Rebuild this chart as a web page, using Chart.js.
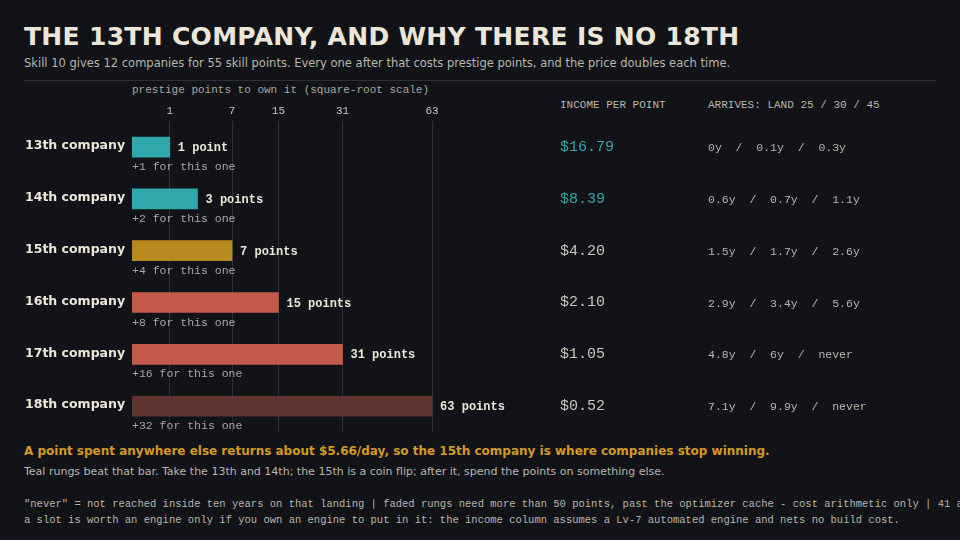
<!DOCTYPE html>
<html><head><meta charset="utf-8">
<script src="https://cdn.jsdelivr.net/npm/chart.js@4"></script>
<style>
body{margin:0;background:#111318;width:960px;height:540px;overflow:hidden;position:relative;font-family:"DejaVu Sans",sans-serif;color:#e8e4da}
.abs{position:absolute;white-space:nowrap}
#title{left:24px;top:22px;font-size:25px;font-weight:900;letter-spacing:0.3px;color:#ece6d8}
#sub{left:24px;top:56px;font-size:11.5px;color:#b9b6ae}
#rule{left:24px;top:80px;width:912px;height:1px;background:#2c2f35}
.mono{font-family:"Liberation Mono","DejaVu Sans Mono",monospace}
#axt{left:132px;top:84px;font-size:11px;color:#a9a6a0}
#h1{left:560px;top:99px;font-size:11px;color:#b9b6ae}
#h2{left:708px;top:99px;font-size:11px;color:#b9b6ae}
#take{left:24px;top:444px;font-size:12px;font-weight:bold;color:#d39a23}
#take2{left:24px;top:465px;font-size:11px;color:#b9b6ae}
#f1{left:24px;top:498px;font-size:10.5px;color:#b9b6ae}
#f2{left:24px;top:514px;font-size:10.5px;color:#b9b6ae}
canvas{position:absolute;left:0;top:0}
</style></head><body>
<div class="abs" id="title">THE 13TH COMPANY, AND WHY THERE IS NO 18TH</div>
<div class="abs" id="sub">Skill 10 gives 12 companies for 55 skill points. Every one after that costs prestige points, and the price doubles each time.</div>
<div class="abs" id="rule"></div>
<div class="abs mono" id="axt">prestige points to own it (square-root scale)</div>
<div class="abs mono" id="h1">INCOME PER POINT</div>
<div class="abs mono" id="h2">ARRIVES: LAND 25 / 30 / 45</div>
<div class="abs" id="take">A point spent anywhere else returns about $5.66/day, so the 15th company is where companies stop winning.</div>
<div class="abs" id="take2">Teal rungs beat that bar. Take the 13th and 14th; the 15th is a coin flip; after it, spend the points on something else.</div>
<div class="abs mono" id="f1">"never" = not reached inside ten years on that landing | faded rungs need more than 50 points, past the optimizer cache - cost arithmetic only | 41 assertions</div>
<div class="abs mono" id="f2">a slot is worth an engine only if you own an engine to put in it: the income column assumes a Lv-7 automated engine and nets no build cost.</div>
<div style="position:absolute;left:0;top:0;width:960px;height:540px"><canvas id="c"></canvas></div>
<script>
const companies = ['13th company','14th company','15th company','16th company','17th company','18th company'];
const points = [1, 3, 7, 15, 31, 63];
const increments = ['+1','+2','+4','+8','+16','+32'];
const income = ['$16.79','$8.39','$4.20','$2.10','$1.05','$0.52'];
const arrives = [
  ['0y','0.1y','0.3y'],
  ['0.6y','0.7y','1.1y'],
  ['1.5y','1.7y','2.6y'],
  ['2.9y','3.4y','5.6y'],
  ['4.8y','6y','never'],
  ['7.1y','9.9y','never']
];
const tickValues = [1, 7, 15, 31, 63];
const colors = ['#2fa7ab','#2fa7ab','#b8891f','#c45a4c','#c45a4c','#5e3330'];
const incomeColors = ['#2fa7ab','#2fa7ab','#c9c5bc','#c9c5bc','#c9c5bc','#c9c5bc'];
const MONO = '"Liberation Mono", "DejaVu Sans Mono", monospace';

const rowText = {
  id: 'rowText',
  afterDatasetsDraw(chart) {
    const ctx = chart.ctx, xs = chart.scales.x, ys = chart.scales.y;
    ctx.save();
    ctx.textBaseline = 'middle';
    companies.forEach((name, i) => {
      const y = ys.getPixelForValue(i);
      ctx.fillStyle = '#ece6d8';
      ctx.font = 'bold 12.5px "DejaVu Sans", sans-serif';
      ctx.textAlign = 'left';
      ctx.fillText(name, 25, y - 1);
      ctx.font = 'bold 12px ' + MONO;
      const label = points[i] + (points[i] === 1 ? ' point' : ' points');
      ctx.fillText(label, xs.getPixelForValue(Math.sqrt(points[i])) + 8, y + 1);
      ctx.font = '11.5px ' + MONO;
      ctx.fillStyle = '#a9a6a0';
      ctx.fillText(increments[i] + ' for this one', 132, y + 20);
      ctx.font = '15px ' + MONO;
      ctx.fillStyle = incomeColors[i];
      ctx.fillText(income[i], 560, y);
      ctx.font = '11.5px ' + MONO;
      ctx.fillStyle = '#b9b6ae';
      ctx.fillText(arrives[i].join('  /  '), 708, y + 1);
    });
    ctx.restore();
  }
};

new Chart(document.getElementById('c'), {
  type: 'bar',
  data: {
    labels: companies,
    datasets: [{ data: points.map(Math.sqrt), backgroundColor: colors, barThickness: 20, borderWidth: 0 }]
  },
  options: {
    responsive: true, maintainAspectRatio: false, animation: false,
    indexAxis: 'y',
    layout: { padding: { left: 132, right: 400, top: 100, bottom: 108 } },
    plugins: { legend: { display: false }, tooltip: { enabled: false } },
    scales: {
      x: {
        type: 'linear', position: 'top', min: 0, max: 11.32,
        afterBuildTicks(axis) { axis.ticks = tickValues.map(v => ({ value: Math.sqrt(v) })); },
        ticks: { color: '#c9c5bc', font: { family: 'Liberation Mono', size: 11 }, padding: 4,
                 callback: v => String(Math.round(v * v)) },
        grid: { color: '#2e3138', drawTicks: false, lineWidth: 1 },
        border: { display: false }
      },
      y: { display: false }
    }
  },
  plugins: [rowText]
});
</script>
</body></html>
